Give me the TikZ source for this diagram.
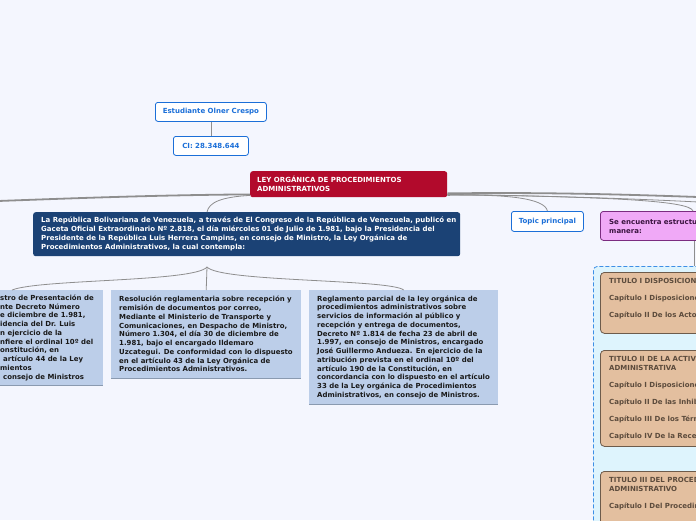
\documentclass[tikz,border=0pt]{standalone}
\usepackage{fontspec}
\setmainfont{DejaVu Sans}
\usetikzlibrary{positioning}

\definecolor{bgpage}{HTML}{F4F6FE}
\definecolor{mmblue}{HTML}{1B6FD8}
\definecolor{lawred}{HTML}{B20A2C}
\definecolor{leyblue}{HTML}{1B4275}
\definecolor{notefill}{HTML}{BCCEE9}
\definecolor{noteshade}{HTML}{8A9AB0}
\definecolor{purfill}{HTML}{F0A9F7}
\definecolor{purdraw}{HTML}{7B2C80}
\definecolor{purtext}{HTML}{3B1440}
\definecolor{grpfill}{HTML}{DEF4FD}
\definecolor{grpdraw}{HTML}{3D8FE6}
\definecolor{tanfill}{HTML}{E3BF9F}
\definecolor{tandraw}{HTML}{6D5B4B}
\definecolor{tantext}{HTML}{5C4B3C}
\definecolor{linkgray}{HTML}{8E8E8E}

\begin{document}
\begin{tikzpicture}[
    x=1pt, y=-1pt,
    every node/.style={font=\bfseries\fontsize{7}{9}\selectfont, inner sep=0pt},
    topicbox/.style={draw=mmblue, fill=white, rounded corners=2.5pt, line width=0.8pt,
      text=mmblue, anchor=north west},
    lawbox/.style={fill=lawred, rounded corners=2.5pt, anchor=north west},
    leybox/.style={fill=leyblue, rounded corners=2.5pt, anchor=north west},
    notebox/.style={fill=notefill, anchor=north west},
    purbox/.style={draw=purdraw, fill=purfill, rounded corners=3pt, line width=0.8pt, anchor=north west},
    grpbox/.style={draw=grpdraw, fill=grpfill, dashed, dash pattern=on 4pt off 2pt,
      rounded corners=4pt, line width=0.8pt, anchor=north west},
    tanbox/.style={draw=tandraw, fill=tanfill, rounded corners=4pt, line width=0.8pt, anchor=north west},
    boxtxt/.style={anchor=west, align=left},
    notetxt/.style={boxtxt, text=black!90, font=\bfseries\fontsize{6.95}{8.75}\selectfont},
    link/.style={draw=linkgray, line width=0.8pt},
    mainlink/.style={draw=linkgray, line width=1.8pt},
    shade/.style={draw=noteshade, line width=0.9pt}
  ]

  \useasboundingbox (0,0) rectangle (696,520);
  \clip (0,0) rectangle (696,520);
  \fill[bgpage] (0,0) rectangle (696,520);

  % student
  \node[topicbox, minimum width=111, minimum height=19] (est) at (155,102) {Estudiante Olner Crespo};
  \node[topicbox, minimum width=75, minimum height=19] (ci) at (173,136) {CI: 28.348.644};

  % central topic
  \node[lawbox, minimum width=197, minimum height=26] (law) at (250,171) {};
  \node[boxtxt, text=white] (lawtxt) at ([xshift=7]law.west)
    {LEY ORGÁNICA DE PROCEDIMIENTOS\\ADMINISTRATIVOS};

  % publication
  \node[leybox, minimum width=427, minimum height=44] (ley) at (33,212) {};
  \node[boxtxt, text=white] (leytxt) at ([xshift=8]ley.west)
    {La República Bolivariana de Venezuela, a través de El Congreso de la República de Venezuela, publicó en\\
     Gaceta Oficial Extraordinario Nº 2.818, el día miércoles 01 de Julio de 1.981, bajo la Presidencia del\\
     Presidente de la República Luis Herrera Campins, en consejo de Ministro, la Ley Orgánica de\\
     Procedimientos Administrativos, la cual contempla:};

  % regulations
  \node[notebox, minimum width=111, minimum height=95] (res1) at (-8,290) {};
  \node[notetxt] (res1txt) at ([xshift=8]res1.west)
    {stro de Presentación de\\
     nte Decreto Número\\
     e diciembre de 1.981,\\
     idencia del Dr. Luis\\
     n ejercicio de la\\
     nfiere el ordinal 10º del\\
     onstitución, en\\
     \hspace*{3pt}artículo 44 de la Ley\\
     mientos\\
     \hspace*{3pt}consejo de Ministros};

  \node[notebox, minimum width=190, minimum height=88] (res2) at (111,290) {};
  \node[notetxt] (res2txt) at ([xshift=8]res2.west)
    {Resolución reglamentaria sobre recepción y\\
     remisión de documentos por correo,\\
     Mediante el Ministerio de Transporte y\\
     Comunicaciones, en Despacho de Ministro,\\
     Número 1.304, el día 30 de diciembre de\\
     1.981, bajo el encargado Ildemaro\\
     Uzcategui. De conformidad con lo dispuesto\\
     en el artículo 43 de la Ley Orgánica de\\
     Procedimientos Administrativos.};

  \node[notebox, minimum width=189, minimum height=114] (res3) at (309,290) {};
  \node[notetxt] (res3txt) at ([xshift=8]res3.west)
    {Reglamento parcial de la ley orgánica de\\
     procedimientos administrativos sobre\\
     servicios de información al público y\\
     recepción y entrega de documentos,\\
     Decreto Nº 1.814 de fecha 23 de abril de\\
     1.997, en consejo de Ministros, encargado\\
     José Guillermo Andueza. En ejercicio de la\\
     atribución prevista en el ordinal 10º del\\
     artículo 190 de la Constitución, en\\
     concordancia con lo dispuesto en el artículo\\
     33 de la Ley orgánica de Procedimientos\\
     Administrativos, en consejo de Ministros.};

  \foreach \n in {res1,res2,res3}
    \draw[shade] (\n.south west) -- (\n.south east);

  % right branch
  \node[topicbox, minimum width=72, minimum height=20] (topic) at (511,211) {Topic principal};

  \node[purbox, minimum width=200, minimum height=29] (pur) at (600,211) {};
  \node[boxtxt, text=purtext] (purtxt) at ([xshift=9]pur.west)
    {Se encuentra estructurada de la siguiente\\manera:};

  \node[grpbox, minimum width=200, minimum height=300] (grp) at (593,266) {};

  \node[tanbox, minimum width=200, minimum height=61] (tit1) at (600,272) {};
  \node[boxtxt, text=tantext] (tit1txt) at (609,298.5)
    {TITULO I DISPOSICIONES FUNDAMENTALES\\[8pt]
     Capítulo I Disposiciones Generales\\[8pt]
     Capítulo II De los Actos Administrativos};

  \node[tanbox, minimum width=200, minimum height=96] (tit2) at (600,350) {};
  \node[boxtxt, text=tantext] (tit2txt) at (609,398)
    {TITULO II DE LA ACTIVIDAD\\
     ADMINISTRATIVA\\[8pt]
     Capítulo I Disposiciones Generales\\[8pt]
     Capítulo II De las Inhibiciones\\[8pt]
     Capítulo III De los Términos y Plazos\\[8pt]
     Capítulo IV De la Recepción de Documentos};

  \node[tanbox, minimum width=200, minimum height=70] (tit3) at (600,471) {};
  \node[boxtxt, text=tantext, anchor=north west] (tit3txt) at (609,477)
    {TITULO III DEL PROCEDIMIENTO\\
     ADMINISTRATIVO\\[8pt]
     Capítulo I Del Procedimiento Ordinario};

  % connectors
  \coordinate (offL) at (-2,201);
  \coordinate (offR1) at (698,197);
  \coordinate (offR2) at (698,202);
  \coordinate (fork) at (207,267);

  \draw[link] (est) -- (ci);
  \draw[mainlink] ([yshift=3]law.south west) .. controls (160,195) and (80,198) .. (offL);
  \draw[link] ([yshift=2]law.south west) .. controls (222,197) and (209,202) .. ([xshift=174]ley.north west);

  \draw[mainlink] ([yshift=4]law.south east) .. controls (550,192) and (640,195) .. (offR1);
  \draw[link] ([yshift=3]law.south east) .. controls (560,196) and (640,199) .. (offR2);
  \draw[link] ([yshift=2]law.south east) .. controls (505,194) and (545,198) .. (topic.north);
  \draw[link] ([yshift=3]law.south east) .. controls (600,197) and (690,200) .. ([xshift=93]pur.north west);
  \draw[link] ([xshift=94]pur.south west) -- ([xshift=101]grp.north west);

  \draw[link] (fork) -- (res2.north);
  \draw[link] (fork) .. controls (195,282) and (40,279) .. ([xshift=20]res1.north west);
  \draw[link] (fork) .. controls (220,282) and (390,279) .. (res3.north);

\end{tikzpicture}
\end{document}
